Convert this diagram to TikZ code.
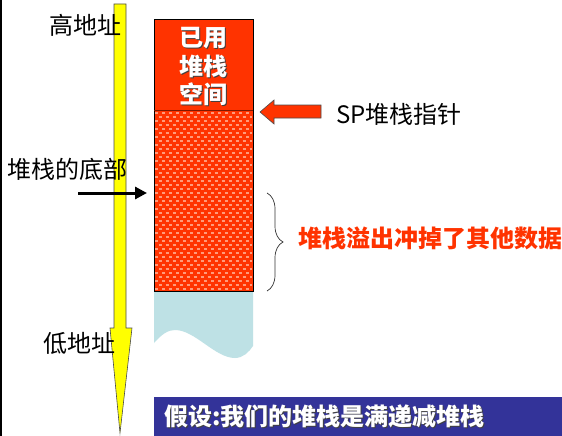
\documentclass[tikz,border=0pt]{standalone}
\usepackage{fontspec}
\newfontfamily\cjk{Noto Sans CJK SC}
\usetikzlibrary{decorations.pathreplacing,arrows.meta}
\definecolor{stackred}{HTML}{FF3300}
\definecolor{dotlight}{HTML}{FF9A7A}
\definecolor{waveblue}{HTML}{BEE1E5}
\definecolor{barblue}{HTML}{333399}
\definecolor{arrowyellow}{HTML}{FFFF00}
\begin{document}
\begin{tikzpicture}[x=1pt,y=-1pt,
  lbl/.style={inner sep=0pt, text=black, font=\cjk\fontsize{24}{28}\selectfont},
  wlbl/.style={inner sep=0pt, text=white, font=\cjk\bfseries\fontsize{24}{28}\selectfont},
  shd/.style={inner sep=0pt, text=black!75, font=\cjk\bfseries\fontsize{24}{28}\selectfont},
  rlbl/.style={inner sep=0pt, text=stackred, font=\cjk\bfseries\fontsize{24}{28}\selectfont},
  outline/.style={draw=black!70, line width=0.6pt}
]
\useasboundingbox (0,0) rectangle (562,436);
\fill[white] (0,0) rectangle (562,436);
\fill[black] (0,0) rectangle (1.5,436);

% yellow address arrow
\draw[outline, fill=arrowyellow] (114,4) -- (126,4) -- (126,328) -- (132,328) -- (120,433) -- (110,328) -- (114,328) -- cycle;

% stack
\fill[stackred] (154,19) rectangle (253,291);
\foreach \i in {0,...,44} {
  \pgfmathsetmacro\ph{mod(\i,2)*3.5}
  \draw[dotlight, line width=1.3pt, dash pattern=on 3pt off 4pt, dash phase=\ph pt] (155,113+4*\i) -- (252,113+4*\i);
}
\fill[waveblue] (154,291) -- (253,291) -- (253,346) .. controls (249,352) and (243,358) .. (235,358) .. controls (215,358) and (195,330) .. (175,330) .. controls (168,330) and (162,334) .. (154,343) -- cycle;
\draw[black, line width=0.8pt] (154,19) rectangle (253,291);
\draw[black!50!stackred, line width=0.6pt] (154,110) -- (253,110);

\node[shd] (s1) at (204,39) {已用};
\node[shd] (s2) at (204,67) {堆栈};
\node[shd] (s3) at (204,95) {空间};
\node[wlbl] (l1) at (203,38) {已用};
\node[wlbl] (l2) at (203,66) {堆栈};
\node[wlbl] (l3) at (203,94) {空间};

% SP pointer arrow
\draw[outline, fill=stackred] (260,112) -- (274,100) -- (274,105) -- (321,105) -- (321,118) -- (274,118) -- (274,124) -- cycle;
\node[lbl, anchor=west] (sp) at (336,114) {SP堆栈指针};

% labels on the left
\node[lbl] (high) at (85,25) {高地址};
\node[lbl] (bottom) at (68,169) {堆栈的底部};
\node[lbl] (low) at (79,343) {低地址};

\coordinate (bt) at (78,193);
\coordinate (bh) at (147,193);
\draw[line width=3pt, -{Triangle[length=12pt,width=12pt]}] (bt) -- (bh);

% brace and overflow note
\coordinate (bra) at (267,193);
\coordinate (brb) at (267,291);
\draw[decorate, decoration={brace, amplitude=16pt}, line width=0.7pt, black!80] (bra) -- (brb);
\node[rlbl, anchor=west] (ovf) at (298,238) {堆栈溢出冲掉了其他数据};

% bottom bar
\fill[barblue] (154,397) rectangle (562,436);
\node[shd, anchor=west] (notes) at (165,417) {假设:我们的堆栈是满递减堆栈};
\node[wlbl, anchor=west] (note) at (164,416) {假设:我们的堆栈是满递减堆栈};
\end{tikzpicture}
\end{document}
